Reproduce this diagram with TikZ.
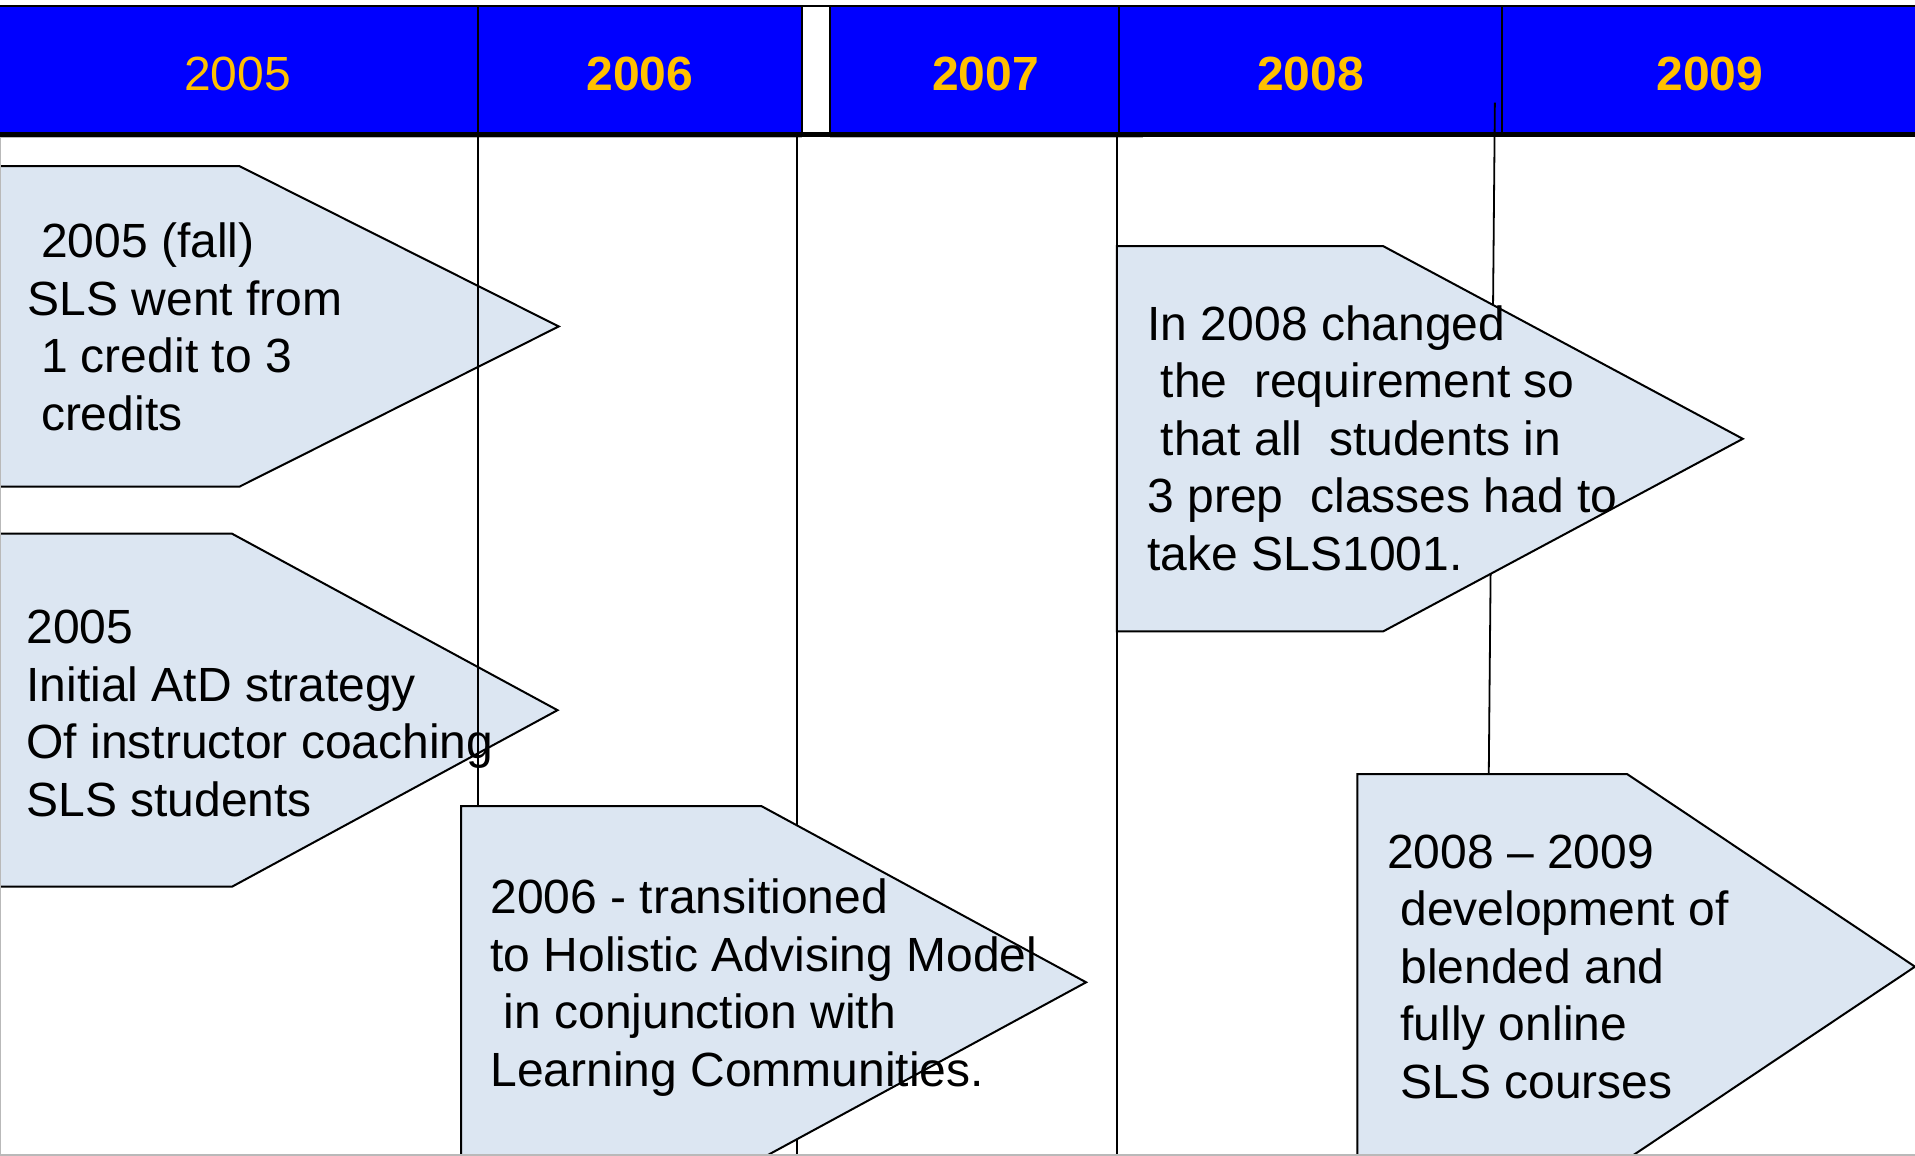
\documentclass[tikz,border=0pt]{standalone}
\usepackage{fontspec}
\setmainfont{Liberation Sans}
\definecolor{hdrblue}{HTML}{0000FF}
\definecolor{gold}{HTML}{FFC000}
\definecolor{evfill}{HTML}{DCE6F2}
\newcommand{\evlines}[1]{\vtop{\baselineskip=57.5pt\lineskiplimit=-1000pt\relax #1}}
\begin{document}
\begin{tikzpicture}[x=1.2213pt,y=-1.2213pt,
  evbox/.style={fill=evfill,draw=black,line width=2pt,line join=miter},
  tline/.style={draw=black,line width=2pt},
  hline/.style={draw=black,line width=2pt},
  frame/.style={draw=gray!55,line width=1.3pt},
  evtext/.style={anchor=base west,inner sep=0pt,font=\fontsize{48}{57.5}\selectfont},
  yr/.style={anchor=base,inner sep=0pt,text=gold,font=\fontsize{48}{57.5}\selectfont},
  yrb/.style={anchor=base,inner sep=0pt,text=gold,font=\fontsize{48}{57.5}\selectfont\bfseries}]
\useasboundingbox (0,0) rectangle (1568,946.5);
\fill[white] (0,0) rectangle (1568,946.5);
% header
\fill[hdrblue] (0,5) rectangle (656.7,110);
\fill[hdrblue] (679.6,5) rectangle (1568,110);
\coordinate (hl) at (0,5); \coordinate (hr) at (1568,5);
\draw[hline,line width=2.2pt] (hl) -- (hr);
\foreach \xx in {391,656.7,679.6,916.2,1229.8}{\draw[hline] (\xx,5) -- (\xx,110);}
\draw[frame] (0,112.4) -- (656.7,112.4);
\draw[frame] (679.6,112.4) -- (936,112.4);
\draw[black,line width=5pt] (0,109.9) -- (1568,109.9);
\node[yr]  (y5) at (194.5,73.7) {2005};
\node[yrb] (y6) at (524,73.7) {2006};
\node[yrb] (y7) at (807,73.7) {2007};
\node[yrb] (y8) at (1073,73.7) {2008};
\node[yrb] (y9) at (1400,73.7) {2009};
% vertical lines behind boxes
\draw[tline] (652.7,111) -- (652.7,950);
\draw[tline] (914.6,111) -- (914.6,950);
% 2005 boxes
\draw[evbox] (-5,136) -- (196,136) -- (457.5,267.3) -- (196,398.5) -- (-5,398.5) -- cycle;
\draw[evbox] (-5,437) -- (190,437) -- (456.5,581.5) -- (190,726) -- (-5,726) -- cycle;
\draw[tline] (391,111) -- (391,660);
% 2006 box
\draw[evbox] (377.5,660) -- (623.4,660) -- (889.3,804.3) -- (611.6,955) -- (377.5,955) -- cycle;
% 2008 boxes
\draw[evbox] (914.5,201.5) -- (1132.5,201.5) -- (1427,359.3) -- (1132.5,517) -- (914.5,517) -- cycle;
\draw[evbox] (1111.3,633.8) -- (1332.3,633.8) -- (1568,791.5) -- (1323.6,955) -- (1111.3,955) -- cycle;
\draw[tline,line width=1.8pt] (1224,84) -- (1222.5,250);
\draw[tline,line width=1.8pt] (1220.5,470) -- (1219,633.8);
% frame
\draw[frame] (0.5,112) -- (0.5,945.8) -- (1568,945.8);
% texts
\node[evtext] (t1) at (22.5,211) {\evlines{\hbox{\ 2005 (fall)}\hbox{SLS went from}\hbox{\ 1 credit to 3}\hbox{\ credits}}};
\node[evtext] (t2) at (21.5,527) {\evlines{\hbox{2005}\hbox{Initial AtD strategy}\hbox{Of instructor coaching}\hbox{SLS students}}};
\node[evtext] (t3) at (401.5,748) {\evlines{\hbox{2006 - transitioned}\hbox{to Holistic Advising Model}\hbox{\ in conjunction with}\hbox{Learning Communities.}}};
\node[evtext] (t4) at (939.5,278.5) {\evlines{\hbox{In 2008 changed}\hbox{\ the\ \ requirement so}\hbox{\ that all\ \ students in}\hbox{3 prep\ \ classes had to}\hbox{take SLS1001.}}};
\node[evtext] (t5) at (1135.5,711) {\evlines{\hbox{2008 – 2009}\hbox{\ development of}\hbox{\ blended and}\hbox{\ fully online}\hbox{\ SLS courses}}};
\end{tikzpicture}
\end{document}
